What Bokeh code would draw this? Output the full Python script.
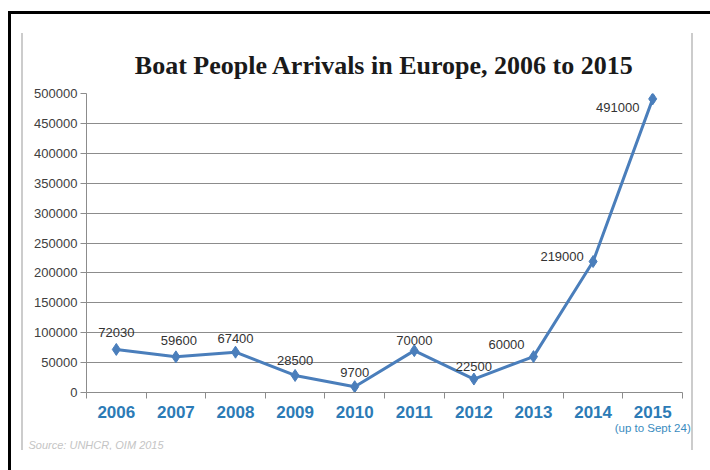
from bokeh.plotting import figure
from bokeh.models import (Range1d, FixedTicker, NumeralTickFormatter, Title,
                          LinearAxis, ColumnDataSource)
from bokeh.core.properties import value
from bokeh.embed import file_html
from bokeh.resources import INLINE

# ---- data ----
years = [2006, 2007, 2008, 2009, 2010, 2011, 2012, 2013, 2014, 2015]
arrivals = [72030, 59600, 67400, 28500, 9700, 70000, 22500, 60000, 219000, 491000]
value_labels = ["72030", "59600", "67400", "28500", "9700", "70000", "22500",
                "60000", "219000", "491000"]
y_ticks = [0, 50000, 100000, 150000, 200000, 250000, 300000, 350000, 400000,
           450000, 500000]
title_text = "Boat People Arrivals in Europe, 2006 to 2015"
source_text = "Source: UNHCR, OIM 2015"
note_text = "(up to Sept 24)"

# label placement (screen pixels, relative to each point)
label_dx = [0, 3, 0, 0, 0, 0, 0, -27, -31, -35]
label_dy = [-17, -16, -14, -15, -14, -10, -13, -12, -5, 9]

LINE = "#4A7EBB"
BLUE = "#2C7BB6"
GRID = "#8c8c8c"

p = figure(width=672, height=417,
           x_range=Range1d(2005.5, 2015.5), y_range=Range1d(0, 500000),
           output_backend="svg", toolbar_location=None,
           min_border_left=63, min_border_right=13,
           min_border_top=60, min_border_bottom=57)
p.outline_line_color = None
p.background_fill_color = "white"
p.border_fill_color = "white"
p.xgrid.grid_line_color = None
p.ygrid.grid_line_color = GRID
p.ygrid.grid_line_width = 1

p.title.text = title_text
p.title.align = "center"
p.title.text_font = "Liberation Serif"
p.title.text_font_style = "bold"
p.title.text_font_size = "26px"
p.title.text_color = "#1a1a1a"
p.title.standoff = 28

# y axis
p.yaxis.ticker = FixedTicker(ticks=y_ticks)
p.yaxis.formatter = NumeralTickFormatter(format="0")
p.yaxis.axis_line_color = GRID
p.yaxis.major_tick_line_color = GRID
p.yaxis.major_tick_out = 6
p.yaxis.major_tick_in = 0
p.yaxis.minor_tick_line_color = None
p.yaxis.major_label_text_font = "Liberation Sans"
p.yaxis.major_label_text_font_size = "13px"
p.yaxis.major_label_text_color = "#404040"
p.yaxis.major_label_standoff = 3

# x axis
bounds = [y - 0.5 for y in years] + [years[-1] + 0.5]
p.xaxis.ticker = FixedTicker(ticks=years, minor_ticks=bounds)
p.xaxis.formatter = NumeralTickFormatter(format="0")
p.xaxis.axis_line_color = GRID
p.xaxis.major_tick_out = 0
p.xaxis.major_tick_in = 0
p.xaxis.major_tick_line_color = None
p.xaxis.minor_tick_out = 6
p.xaxis.minor_tick_in = 0
p.xaxis.minor_tick_line_color = GRID
p.xaxis.major_label_text_font = "Liberation Sans"
p.xaxis.major_label_text_font_style = "bold"
p.xaxis.major_label_text_font_size = "17px"
p.xaxis.major_label_text_color = BLUE
p.xaxis.major_label_standoff = 7

# note under 2015 as a second, bare axis
note_axis = LinearAxis(ticker=FixedTicker(ticks=[years[-1]]),
                       major_label_overrides={years[-1]: note_text})
note_axis.axis_line_color = None
note_axis.major_tick_line_color = None
note_axis.minor_tick_line_color = None
note_axis.major_tick_out = 0
note_axis.major_tick_in = 0
note_axis.major_label_standoff = 1
note_axis.major_label_text_font = "Liberation Sans"
note_axis.major_label_text_font_size = "11.5px"
note_axis.major_label_text_color = "#3a8cc0"
p.add_layout(note_axis, "below")

# source line
p.add_layout(Title(text=source_text, align="left", offset=-58, standoff=0,
                   text_font="Liberation Sans", text_font_style="italic",
                   text_font_size="11px", text_color="#c4c4c4"), "below")

src = ColumnDataSource(dict(x=years, y=arrivals, t=value_labels,
                            dx=label_dx, dy=label_dy))

p.line("x", "y", source=src, line_color=LINE, line_width=3)
p.scatter("x", "y", source=src, marker="diamond", size=12,
          fill_color=LINE, line_color=LINE)
p.text("x", "y", text="t", source=src, x_offset="dx", y_offset="dy",
       text_align="center", text_baseline="middle",
       text_font=value("Liberation Sans"), text_font_size="13px",
       text_color="#333333")

# grey side rules of the chart box + black page frame (via CSS)
p.styles = {
    "margin-left": "21px", "margin-top": "33px",
    "border-left": "2px solid #cccccc", "border-right": "2px solid #cccccc",
    "box-shadow": "30px 21px 0 40px white, 27px 18px 0 40px black",
}

open("out.html", "w").write(file_html(p, INLINE))
